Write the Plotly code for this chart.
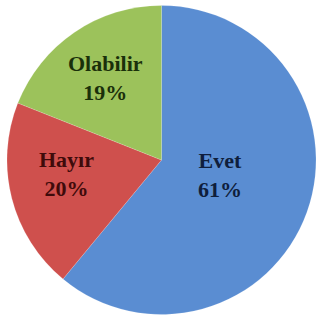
import plotly.graph_objects as go

labels = ["Evet", "Hayır", "Olabilir"]
values = [61, 20, 19]
colors = ["#5A8DD2", "#CF504D", "#9CC25B"]
text_colors = ["#0F1E3C", "#3F0B0B", "#1A300A"]

# label anchor positions (paper fractions) – layout only
label_pos = [(0.689, 0.452), (0.194, 0.455), (0.320, 0.765)]

fig = go.Figure(go.Pie(
    labels=labels,
    values=values,
    sort=False,
    direction="clockwise",
    rotation=0,
    marker=dict(colors=colors, line=dict(color="rgba(255,255,255,0.3)", width=0.5)),
    textinfo="none",
    hoverinfo="label+percent",
    showlegend=False,
))

for lab, val, col, (px, py) in zip(labels, values, text_colors, label_pos):
    fig.add_annotation(
        x=px, y=py, xref="paper", yref="paper",
        text=f"<b>{lab}<br>{val}%</b>",
        showarrow=False,
        xanchor="center", yanchor="middle",
        font=dict(family="Liberation Serif, Times New Roman, DejaVu Serif, serif", size=22, color=col),
    )

fig.update_layout(
    width=316, height=323,
    margin=dict(l=7, r=0, t=5, b=8),
    paper_bgcolor="white",
    plot_bgcolor="white",
)
fig.write_html("out.html", config={"displayModeBar": False},
               post_script="document.body.style.margin='0';")
